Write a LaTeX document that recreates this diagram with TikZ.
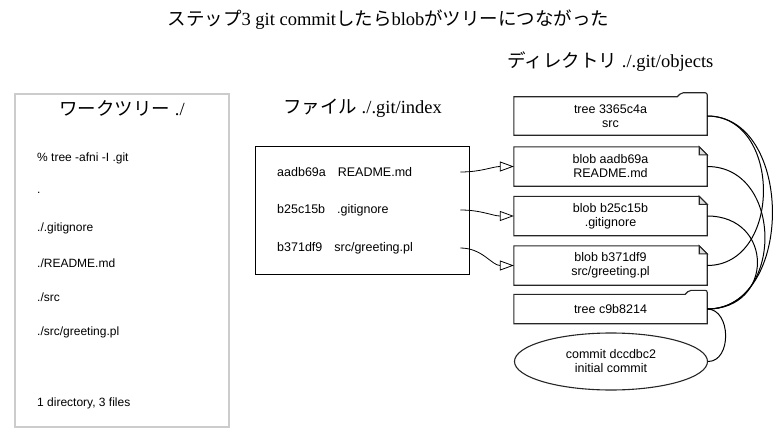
\documentclass[tikz,border=0pt]{standalone}
\usepackage{fontspec}
\setmainfont{Liberation Serif}
\setsansfont{Liberation Sans}
\newfontfamily\jafont{Noto Sans CJK JP}
\usetikzlibrary{arrows.meta,shapes.geometric}

\newcommand{\blobshape}[1]{%
	\draw[objline] (#1.north west) -- ([xshift=-8pt]#1.north east) -- ([yshift=-8pt]#1.north east) -- (#1.south east) -- (#1.south west) -- cycle;
	\draw[objline,fill=gray!25] ([xshift=-8pt]#1.north east) -- ([xshift=-8pt,yshift=-8pt]#1.north east) -- ([yshift=-8pt]#1.north east) -- cycle;}
\newcommand{\treeshape}[2]{%
	\draw[objline] (#1.south west) -- (#1.north west) -- ([xshift=-#2]#1.north east) [rounded corners=2pt] -- ([xshift=-#2+4pt,yshift=4pt]#1.north east) -- ([yshift=4pt]#1.north east) [sharp corners] -- (#1.south east) -- cycle;}

\begin{document}
\begin{tikzpicture}[x=1pt,y=-1pt]
	\tikzset{
		objline/.style={draw=black!85,line width=1.1pt},
		obj/.style={minimum width=193pt,inner sep=0pt,align=center,font=\sffamily\fontsize{12.5}{14}\selectfont},
		heading/.style={font=\fontsize{18.5}{20}\selectfont},
		listline/.style={anchor=west,inner sep=0pt,font=\sffamily\fontsize{12}{14}\selectfont},
		idxrow/.style={anchor=west,inner sep=0pt,text width=183pt,align=left,font=\sffamily\fontsize{12.5}{14}\selectfont},
		idxarrow/.style={-{Triangle[open,length=14pt,width=10pt]},line width=0.8pt},
		link/.style={line width=1pt}
	}
	\useasboundingbox (0,0) rectangle (777,444);
	\node[heading] (title) at (388.5,20) {{\jafont ステップ}3 git commit{\jafont したら}blob{\jafont がツリーにつながった}};

	\node[draw=black!20,line width=1.5pt,minimum width=214pt,minimum height=333pt,inner sep=0pt] (work) at (122,260.5) {};
	\node[heading] (worktitle) at (122,108) {{\jafont ワークツリー} ./};
	\node[listline] (w1) at (37,158) {\% tree -afni -I .git};
	\node[listline] (w2) at (37,193) {.};
	\node[listline] (w3) at (37,228) {./.gitignore};
	\node[listline] (w4) at (37,263) {./README.md};
	\node[listline] (w5) at (37,297) {./src};
	\node[listline] (w6) at (37,332) {./src/greeting.pl};
	\node[listline] (w7) at (37,403) {1 directory, 3 files};

	\node[heading] (idxtitle) at (362.5,108) {{\jafont ファイル} ./.git/index};
	\node[draw,line width=1pt,minimum width=214pt,minimum height=128pt,inner sep=0pt] (index) at (362.5,210) {};
	\node[idxrow] (ix1) at (277,172) {aadb69a\hspace{12pt}README.md};
	\node[idxrow] (ix2) at (277,210) {b25c15b\hspace{12pt}.gitignore};
	\node[idxrow] (ix3) at (277,248) {b371df9\hspace{12pt}src/greeting.pl};

	\node[heading] (objtitle) at (610.5,62) {{\jafont ディレクトリ} ./.git/objects};
	\node[obj,minimum height=38pt] (tr1) at (610.5,116) {tree 3365c4a\\src};
	\node[obj,minimum height=39pt] (bl1) at (610.5,166.5) {blob aadb69a\\README.md};
	\node[obj,minimum height=39pt] (bl2) at (610.5,216) {blob b25c15b\\.gitignore};
	\node[obj,minimum height=39pt] (bl3) at (610.5,265.5) {blob b371df9\\src/greeting.pl};
	\node[obj,minimum height=29pt] (tr2) at (610.5,309) {tree c9b8214};
	\node[obj,draw=black!85,line width=1.1pt,ellipse,minimum height=57pt] (commit) at (611,361.5) {commit dccdbc2\\initial commit};
	\treeshape{tr1}{30pt}
	\blobshape{bl1}
	\blobshape{bl2}
	\blobshape{bl3}
	\treeshape{tr2}{22pt}

	\draw[idxarrow] (ix1.east) to[out=0,in=180] (bl1.west);
	\draw[idxarrow] (ix2.east) to[out=0,in=180] (bl2.west);
	\draw[idxarrow] (ix3.east) to[out=0,in=180] (bl3.west);

	\draw[link] (tr2.east) .. controls +(87,0) and +(87,0) .. (tr1.east);
	\draw[link] (tr2.east) .. controls +(77,0) and +(77,0) .. (bl1.east);
	\draw[link] (tr2.east) .. controls +(67,0) and +(67,0) .. (bl2.east);
	\draw[link] (tr1.east) .. controls +(75,0) and +(75,0) .. (bl3.east);
	\draw[link] (commit.east) .. controls +(24,0) and +(24,0) .. (tr2.east);
\end{tikzpicture}
\end{document}
